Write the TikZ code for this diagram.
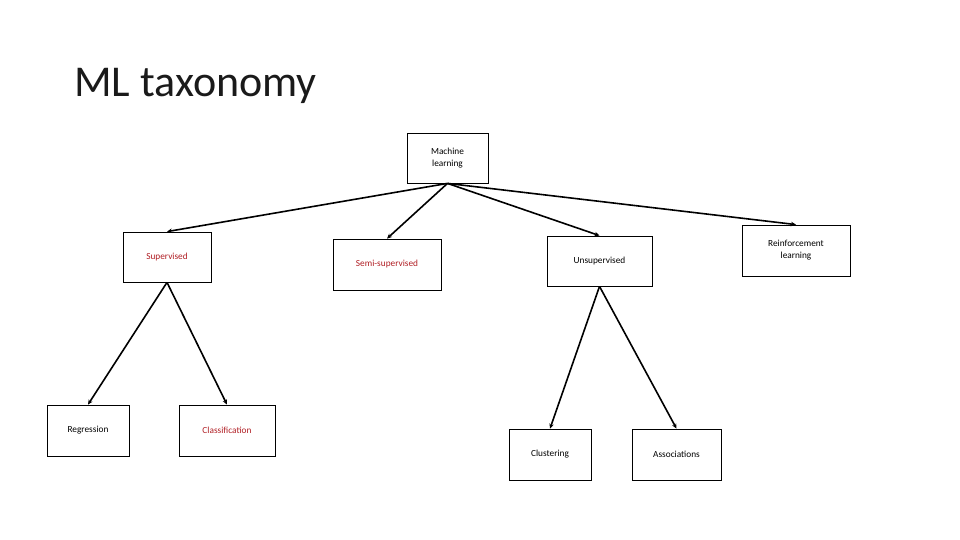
\documentclass[tikz,border=0pt]{standalone}
\usepackage{fontspec}
\setmainfont{Carlito}
\usetikzlibrary{arrows.meta}
\definecolor{darkred}{HTML}{B01E24}
\definecolor{titlegray}{HTML}{1A1A1A}
\begin{document}
\begin{tikzpicture}[x=1pt,y=-1pt,
  box/.style={draw=black,line width=0.8pt,inner sep=0pt,align=center,font=\fontsize{9.3}{12}\selectfont},
  link/.style={line width=1.6pt,-{Stealth[length=5pt,width=4.5pt]}},
  red/.style={text=darkred}]
\useasboundingbox (0,0) rectangle (960,540);
\node[anchor=base west,inner sep=0pt,text=titlegray,font=\fontsize{44}{50}\selectfont] (title) at (74,97) {ML taxonomy};
\node[box,minimum width=81pt,minimum height=50pt] (ml) at (447.5,158) {Machine\\learning};
\node[box,red,minimum width=88pt,minimum height=50pt] (sup) at (167,257) {Supervised};
\node[box,red,minimum width=108pt,minimum height=51pt] (semi) at (387,264.5) {Semi-supervised};
\node[box,minimum width=105pt,minimum height=50pt] (unsup) at (599.5,261) {Unsupervised};
\node[box,minimum width=108pt,minimum height=51pt] (rl) at (796,250.5) {Reinforcement\\learning};
\node[box,minimum width=82pt,minimum height=51pt] (reg) at (88,430.5) {Regression};
\node[box,red,minimum width=96pt,minimum height=51pt] (cls) at (227,430.5) {Classification};
\node[box,minimum width=82pt,minimum height=51pt] (clu) at (550,454.5) {Clustering};
\node[box,minimum width=89pt,minimum height=51pt] (asc) at (676.5,454.5) {Associations};
\draw[link] (ml.south) -- (sup.north);
\draw[link] (ml.south) -- (semi.north);
\draw[link] (ml.south) -- (unsup.north);
\draw[link] (ml.south) -- (rl.north);
\draw[link] (sup.south) -- (reg.north);
\draw[link] (sup.south) -- (cls.north);
\draw[link] (unsup.south) -- (clu.north);
\draw[link] (unsup.south) -- (asc.north);
\end{tikzpicture}
\end{document}
